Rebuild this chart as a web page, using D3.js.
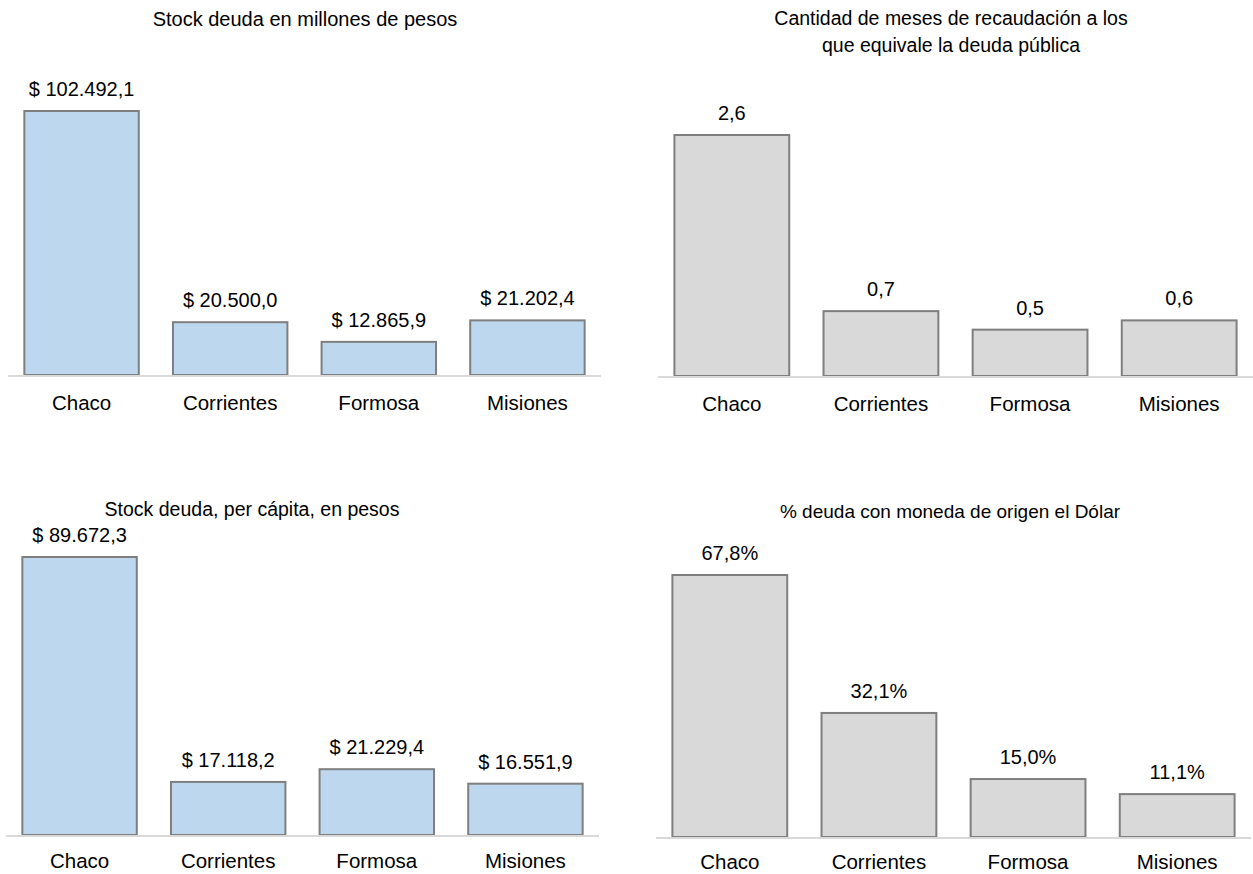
<!DOCTYPE html>
<html>
<head>
<meta charset="utf-8">
<script src="https://cdn.jsdelivr.net/npm/d3@7"></script>
<style>
  body { margin: 0; background: #fff; }
  svg { display: block; font-family: "Liberation Sans", Arial, sans-serif; }
</style>
</head>
<body>
<svg width="1253" height="874"></svg>
<script>
const provincias = ["Chaco", "Corrientes", "Formosa", "Misiones"];
const stockDeuda = [102492.1, 20500.0, 12865.9, 21202.4];
const mesesRecaudacion = [2.6, 0.7, 0.5, 0.6];
const deudaPerCapita = [89672.3, 17118.2, 21229.4, 16551.9];
const deudaDolar = [67.8, 32.1, 15.0, 11.1];

const locale = d3.formatLocale({ decimal: ",", thousands: ".", grouping: [3], currency: ["$ ", ""] });
const fmtPesos = v => "$ " + locale.format(",.1f")(v);
const fmtNum = v => locale.format(".1f")(v);
const fmtPct = v => locale.format(".1f")(v) + "%";

const svg = d3.select("svg");

function drawPanel(opt) {
    const g = svg.append("g");

    const x = d3.scaleBand()
        .domain(provincias)
        .range([opt.left, opt.right])
        .paddingInner(0.23)
        .paddingOuter(0.11);

    const y = d3.scaleLinear()
        .domain([0, d3.max(opt.values)])
        .range([opt.base, opt.top]);

    // titulo (una o dos lineas)
    opt.title.forEach((t, i) => {
        g.append("text")
            .attr("x", opt.titleX)
            .attr("y", opt.titleY + i * 27)
            .attr("text-anchor", "middle")
            .attr("font-size", opt.titleSize)
            .attr("fill", "#000")
            .text(t);
    });

    g.selectAll(".bar")
        .data(opt.values)
        .join("rect")
        .attr("class", "bar")
        .attr("x", (d, i) => x(provincias[i]))
        .attr("y", d => y(d))
        .attr("width", x.bandwidth())
        .attr("height", d => y(0) - y(d))
        .attr("fill", opt.fill)
        .attr("stroke", "#7f7f7f")
        .attr("stroke-width", 2);

    g.append("line")
        .attr("x1", opt.left)
        .attr("x2", opt.right)
        .attr("y1", y(0) + 1)
        .attr("y2", y(0) + 1)
        .attr("stroke", "#d9d9d9")
        .attr("stroke-width", 2);

    g.selectAll(".val")
        .data(opt.values)
        .join("text")
        .attr("class", "val")
        .attr("x", (d, i) => x(provincias[i]) + x.bandwidth() / 2)
        .attr("y", d => y(d) - 15)
        .attr("text-anchor", "middle")
        .attr("font-size", 20)
        .text(opt.fmt);

    g.selectAll(".cat")
        .data(provincias)
        .join("text")
        .attr("class", "cat")
        .attr("x", d => x(d) + x.bandwidth() / 2)
        .attr("y", y(0) + opt.catGap)
        .attr("text-anchor", "middle")
        .attr("font-size", 20.5)
        .text(d => d);
}

drawPanel({
    title: ["Stock deuda en millones de pesos"],
    titleX: 305, titleY: 26, titleSize: 20,
    values: stockDeuda, fmt: fmtPesos, fill: "#bdd7ee",
    left: 8, right: 601, base: 375, top: 111, catGap: 35
});

drawPanel({
    title: ["Cantidad de meses de recaudación a los", "que equivale la deuda pública"],
    titleX: 951, titleY: 25, titleSize: 19.5,
    values: mesesRecaudacion, fmt: fmtNum, fill: "#d9d9d9",
    left: 658, right: 1253, base: 376, top: 135, catGap: 35
});

drawPanel({
    title: ["Stock deuda, per cápita, en pesos"],
    titleX: 252, titleY: 516, titleSize: 19.5,
    values: deudaPerCapita, fmt: fmtPesos, fill: "#bdd7ee",
    left: 6, right: 599, base: 835, top: 557, catGap: 33
});

drawPanel({
    title: ["% deuda con moneda de origen el Dólar"],
    titleX: 950, titleY: 518, titleSize: 19,
    values: deudaDolar, fmt: fmtPct, fill: "#d9d9d9",
    left: 656, right: 1251, base: 837, top: 575, catGap: 32
});
</script>
</body>
</html>
